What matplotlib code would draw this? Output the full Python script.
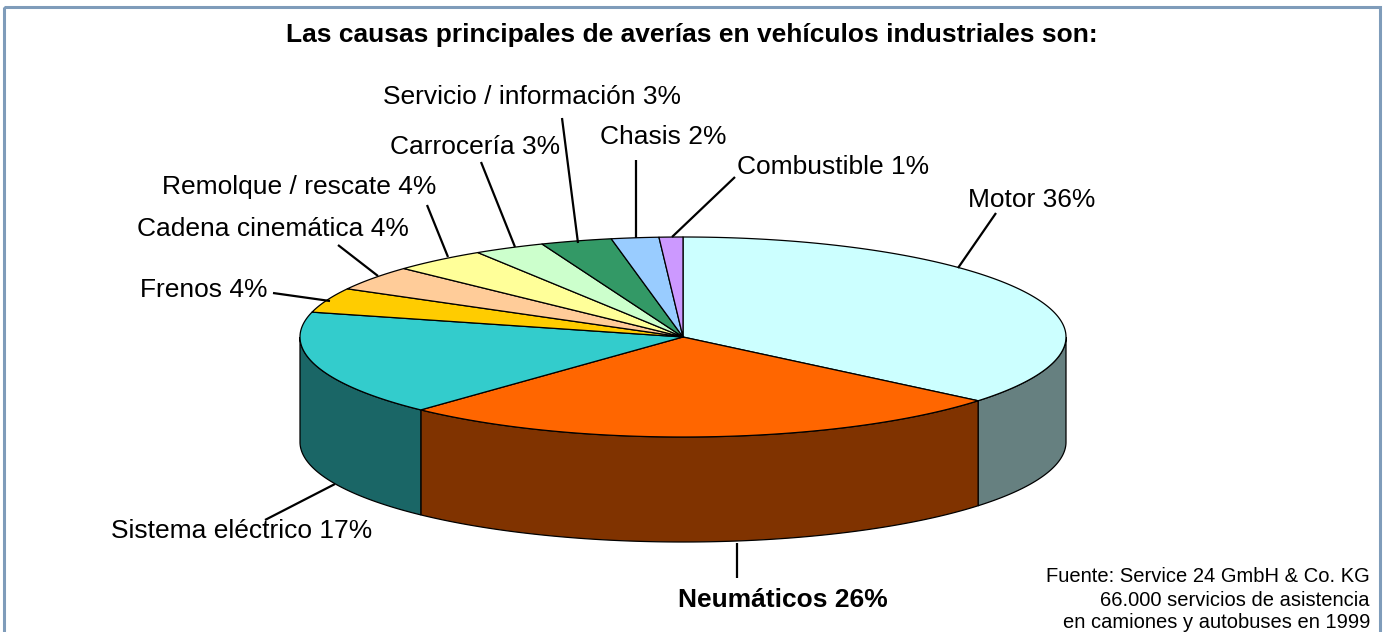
import numpy as np
import matplotlib
matplotlib.use("Agg")
import matplotlib.pyplot as plt
from matplotlib.patches import Polygon, Rectangle

plt.rcParams['font.family'] = ['Liberation Sans', 'DejaVu Sans']

# ---- data ----
categories = ["Motor", "Neumáticos", "Sistema eléctrico", "Frenos", "Cadena cinemática",
              "Remolque / rescate", "Carrocería", "Servicio / información", "Chasis", "Combustible"]
values = [36, 26, 17, 4, 4, 4, 3, 3, 2, 1]
top_colors = ["#CCFFFF", "#FF6600", "#33CCCC", "#FFCC00", "#FFCC99",
              "#FFFF99", "#CCFFCC", "#339966", "#99CCFF", "#CC99FF"]
side_colors = ["#668080", "#803300", "#1A6666", "#806600", "#80664D",
               "#80804D", "#668066", "#1A4D33", "#4D6680", "#664D80"]
title = "Las causas principales de averías en vehículos industriales son:"
source_lines = ["Fuente: Service 24 GmbH & Co. KG",
                "66.000 servicios de asistencia",
                "en camiones y autobuses en 1999"]

# ---- layout (pixel space) ----
W, H = 1385, 632
fig = plt.figure(figsize=(W / 100, H / 100), dpi=100)
ax = fig.add_axes([0, 0, 1, 1])
ax.set_xlim(0, W)
ax.set_ylim(H, 0)
ax.axis("off")

cx, cy, rx, ry, depth = 683, 337, 383, 100, 105


def pt(a_deg, dy=0.0):
    a = np.radians(a_deg)
    return cx + rx * np.cos(a), cy - ry * np.sin(a) + dy


total = float(sum(values))
starts, ends = [], []
cur = 90.0
for v in values:
    starts.append(cur)
    cur -= 360.0 * v / total
    ends.append(cur)

# side walls (front half only: angles between -180 and 0)
for s, e, sc in zip(starts, ends, side_colors):
    a_hi = min(s, 0.0)
    a_lo = max(e, -180.0)
    if a_hi <= a_lo:
        continue
    angs = np.linspace(a_hi, a_lo, 120)
    top = [pt(a) for a in angs]
    bot = [pt(a, depth) for a in angs[::-1]]
    ax.add_patch(Polygon(top + bot, closed=True, facecolor=sc,
                         edgecolor="black", linewidth=0.9, zorder=1))

# top faces
for s, e, tc in zip(starts, ends, top_colors):
    n = max(int(abs(s - e) * 2), 4)
    angs = np.linspace(s, e, n)
    poly = [(cx, cy)] + [pt(a) for a in angs]
    ax.add_patch(Polygon(poly, closed=True, facecolor=tc,
                         edgecolor="black", linewidth=0.9, zorder=2,
                         joinstyle="round"))

# ---- labels ----
label_texts = [f"{c} {v}%" for c, v in zip(categories, values)]
label_pos = {
    "Motor": (968, 200),
    "Neumáticos": (678, 600),
    "Sistema eléctrico": (111, 531),
    "Frenos": (140, 290),
    "Cadena cinemática": (137, 229),
    "Remolque / rescate": (162, 187),
    "Carrocería": (390, 147),
    "Servicio / información": (383, 97),
    "Chasis": (600, 137),
    "Combustible": (737, 167),
}
leaders = {
    "Motor": ((996, 213), (958, 268)),
    "Neumáticos": ((737, 578), (737, 543)),
    "Sistema eléctrico": ((265, 520), (335, 484)),
    "Frenos": ((273, 293), (330, 301)),
    "Cadena cinemática": ((338, 245), (378, 276)),
    "Remolque / rescate": ((427, 205), (448, 257)),
    "Carrocería": ((481, 162), (515, 247)),
    "Servicio / información": ((562, 118), (578, 243)),
    "Chasis": ((636, 160), (636, 238)),
    "Combustible": ((735, 177), (672, 237)),
}
for c, txt in zip(categories, label_texts):
    x, y = label_pos[c]
    bold = (c == "Neumáticos")
    ax.text(x, y, txt, ha="left", va="center", fontsize=19,
            fontweight="bold" if bold else "normal", color="black", zorder=5)
    (x1, y1), (x2, y2) = leaders[c]
    ax.plot([x1, x2], [y1, y2], color="black", linewidth=1.6, zorder=4,
            solid_capstyle="butt")

ax.text(692, 35, title, ha="center", va="center", fontsize=19,
        fontweight="bold", color="black")
for i, line in enumerate(source_lines):
    ax.text(1370, 577 + 23 * i, line, ha="right", va="center",
            fontsize=14.5, color="black")

# frame
ax.add_patch(Rectangle((4, 7), 1376, 640, fill=False, edgecolor="#7F9CBA",
                       linewidth=2.2, zorder=6))

fig.savefig("out.png", dpi=100)
